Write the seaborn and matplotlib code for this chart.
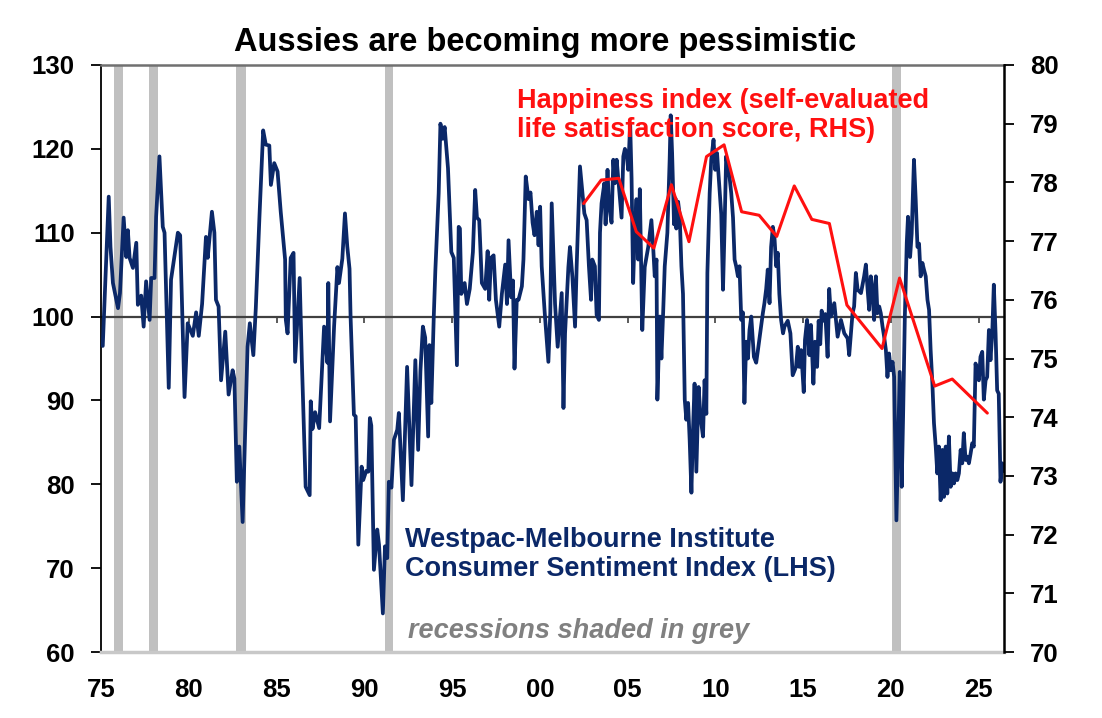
import matplotlib
matplotlib.use("Agg")
import matplotlib.pyplot as plt
import seaborn as sns

# Style
sns.set_style("ticks")
plt.rcParams['font.family'] = ['Liberation Sans', 'DejaVu Sans']
plt.rcParams['font.weight'] = 'bold'
plt.rcParams['text.color'] = 'black'
plt.rcParams['xtick.color'] = 'black'
plt.rcParams['ytick.color'] = 'black'
plt.rcParams['axes.labelcolor'] = 'black'

NAVY = "#0b2868"
RED = "#ff1010"
GREY = "#c0c0c0"

# Westpac-MI consumer sentiment (LHS)
sent_year = [
    1975.10, 1975.44, 1975.54, 1975.68, 1975.97, 1976.08, 1976.29, 1976.44, 1976.53, 1976.63,
    1976.82, 1977.01, 1977.10, 1977.29, 1977.43, 1977.57, 1977.77, 1977.86, 1978.05, 1978.14,
    1978.33, 1978.52, 1978.62, 1978.86, 1978.99, 1979.38, 1979.51, 1979.76, 1979.94, 1980.23,
    1980.42, 1980.57, 1980.76, 1980.98, 1981.08, 1981.32, 1981.46, 1981.55, 1981.70, 1981.84,
    1982.08, 1982.27, 1982.50, 1982.60, 1982.74, 1982.88, 1983.07, 1983.35, 1983.48, 1983.68,
    1983.82, 1984.03, 1984.24, 1984.39, 1984.59, 1984.68, 1984.87, 1985.06, 1985.24, 1985.49,
    1985.53, 1985.63, 1985.81, 1985.97, 1986.06, 1986.32, 1986.44, 1986.66, 1986.89, 1986.95,
    1987.05, 1987.20, 1987.43, 1987.71, 1987.90, 1987.95, 1988.05, 1988.28, 1988.47, 1988.56,
    1988.75, 1988.90, 1989.03, 1989.16, 1989.22, 1989.41, 1989.51, 1989.66, 1989.85, 1989.94,
    1990.11, 1990.23, 1990.32, 1990.40, 1990.55, 1990.74, 1990.84, 1991.06, 1991.18, 1991.31,
    1991.40, 1991.55, 1991.69, 1991.88, 1991.97, 1992.20, 1992.44, 1992.69, 1992.91, 1993.07,
    1993.20, 1993.34, 1993.47, 1993.64, 1993.71, 1993.82, 1993.96, 1994.05, 1994.24, 1994.34,
    1994.47, 1994.58, 1994.77, 1994.96, 1995.10, 1995.28, 1995.38, 1995.45, 1995.53, 1995.72,
    1995.85, 1996.01, 1996.19, 1996.32, 1996.42, 1996.55, 1996.70, 1996.89, 1997.03, 1997.12,
    1997.22, 1997.37, 1997.50, 1997.69, 1997.84, 1998.03, 1998.13, 1998.22, 1998.37, 1998.47,
    1998.56, 1998.69, 1998.79, 1998.98, 1999.07, 1999.20, 1999.36, 1999.47, 1999.59, 1999.70,
    1999.83, 1999.93, 2000.02, 2000.11, 2000.28, 2000.49, 2000.60, 2000.68, 2000.87, 2001.02,
    2001.25, 2001.35, 2001.44, 2001.63, 2001.72, 2001.86, 2002.01, 2002.10, 2002.29, 2002.43,
    2002.54, 2002.67, 2002.80, 2002.92, 2002.99, 2003.14, 2003.24, 2003.37, 2003.43, 2003.52,
    2003.68, 2003.75, 2003.86, 2003.94, 2004.09, 2004.19, 2004.28, 2004.38, 2004.51, 2004.66,
    2004.76, 2004.85, 2004.94, 2005.04, 2005.15, 2005.23, 2005.32, 2005.41, 2005.51, 2005.61,
    2005.70, 2005.84, 2005.98, 2006.18, 2006.36, 2006.46, 2006.55, 2006.65, 2006.70, 2006.84,
    2006.93, 2007.03, 2007.12, 2007.27, 2007.40, 2007.46, 2007.54, 2007.65, 2007.73, 2007.78,
    2007.88, 2007.97, 2008.07, 2008.16, 2008.26, 2008.35, 2008.45, 2008.54, 2008.64, 2008.73,
    2008.82, 2008.92, 2009.05, 2009.16, 2009.30, 2009.39, 2009.49, 2009.55, 2009.68, 2009.77,
    2009.90, 2010.00, 2010.10, 2010.21, 2010.34, 2010.44, 2010.53, 2010.62, 2010.72, 2010.81,
    2010.91, 2011.01, 2011.10, 2011.19, 2011.29, 2011.38, 2011.48, 2011.57, 2011.66, 2011.76,
    2011.86, 2011.95, 2012.05, 2012.20, 2012.33, 2012.43, 2012.61, 2012.71, 2012.80, 2012.90,
    2012.99, 2013.09, 2013.18, 2013.28, 2013.37, 2013.47, 2013.56, 2013.65, 2013.75, 2013.86,
    2013.94, 2014.13, 2014.28, 2014.41, 2014.60, 2014.70, 2014.79, 2014.89, 2015.04, 2015.11,
    2015.23, 2015.36, 2015.45, 2015.59, 2015.68, 2015.80, 2015.89, 2015.98, 2016.06, 2016.18,
    2016.27, 2016.40, 2016.49, 2016.59, 2016.78, 2016.97, 2017.16, 2017.35, 2017.54, 2017.63,
    2017.82, 2017.91, 2018.01, 2018.11, 2018.30, 2018.48, 2018.58, 2018.68, 2018.77, 2018.86,
    2018.96, 2019.05, 2019.15, 2019.24, 2019.34, 2019.43, 2019.53, 2019.62, 2019.72, 2019.81,
    2019.90, 2020.00, 2020.10, 2020.19, 2020.32, 2020.41, 2020.51, 2020.62, 2020.70, 2020.80,
    2020.91, 2020.98, 2021.10, 2021.19, 2021.32, 2021.42, 2021.52, 2021.61, 2021.70, 2021.80,
    2021.89, 2021.99, 2022.09, 2022.18, 2022.27, 2022.37, 2022.46, 2022.56, 2022.65, 2022.74,
    2022.84, 2022.94, 2023.03, 2023.13, 2023.22, 2023.31, 2023.41, 2023.51, 2023.60, 2023.69,
    2023.79, 2023.88, 2023.98, 2024.07, 2024.16, 2024.26, 2024.36, 2024.45, 2024.55, 2024.64,
    2024.73, 2024.83, 2024.93, 2025.02, 2025.11, 2025.21, 2025.30, 2025.40, 2025.49, 2025.59,
    2025.68, 2025.78, 2025.87, 2025.97, 2026.06, 2026.15, 2026.25, 2026.35, 2026.42,
]
sent_value = [
    96.5, 114.3, 108.3, 104.0, 101.0, 102.8, 111.8, 107.1, 110.3, 107.0,
    105.8, 108.8, 101.4, 102.5, 98.8, 104.2, 99.6, 104.6, 104.6, 111.9,
    119.1, 110.7, 110.0, 91.5, 104.4, 110.0, 109.7, 90.4, 99.2, 97.7,
    100.5, 97.7, 101.5, 109.5, 107.0, 112.5, 110.0, 102.0, 101.2, 92.4,
    98.2, 90.7, 93.6, 92.6, 80.3, 84.5, 75.5, 96.4, 99.2, 95.4,
    101.0, 112.0, 122.2, 120.5, 120.4, 115.7, 118.3, 117.3, 112.5, 106.8,
    99.6, 98.0, 107.0, 107.6, 94.6, 104.6, 95.0, 79.7, 78.7, 89.9,
    86.6, 88.6, 86.7, 98.8, 94.5, 104.0, 87.5, 98.8, 105.9, 104.0,
    106.9, 112.3, 108.4, 105.7, 100.0, 88.3, 88.1, 72.8, 82.1, 80.5,
    81.6, 81.5, 87.9, 87.0, 69.8, 74.6, 72.8, 64.6, 72.6, 71.2,
    80.3, 79.6, 85.3, 86.5, 88.5, 78.1, 94.0, 79.9, 94.8, 84.1,
    93.5, 98.8, 97.5, 85.7, 96.6, 89.7, 100.0, 105.5, 114.7, 123.0,
    121.2, 122.6, 117.7, 107.7, 107.0, 94.2, 110.7, 110.5, 102.7, 104.0,
    101.5, 103.3, 107.7, 115.1, 111.8, 111.5, 104.0, 103.3, 107.8, 102.0,
    107.0, 107.3, 102.0, 98.8, 102.7, 106.2, 101.5, 109.1, 102.3, 104.3,
    93.8, 102.0, 102.0, 103.6, 106.8, 116.7, 114.0, 114.8, 111.2, 109.7,
    112.5, 108.5, 113.1, 106.0, 100.5, 94.6, 100.5, 113.5, 101.5, 96.4,
    102.8, 89.1, 98.0, 105.9, 108.3, 104.7, 98.8, 105.9, 117.9, 114.7,
    112.3, 111.5, 106.0, 102.0, 106.8, 106.0, 100.2, 99.6, 110.0, 113.5,
    115.9, 111.0, 117.5, 113.3, 111.2, 118.7, 115.9, 118.7, 115.5, 111.8,
    119.1, 120.0, 119.5, 117.5, 123.0, 116.5, 104.0, 110.0, 114.0, 106.8,
    115.2, 98.4, 105.9, 108.3, 111.5, 108.3, 104.8, 106.8, 90.1, 100.0,
    95.0, 100.5, 106.0, 110.0, 118.7, 124.0, 119.5, 111.0, 114.1, 110.5,
    113.7, 112.2, 106.0, 102.7, 90.1, 87.7, 89.7, 85.3, 79.0, 86.5,
    92.0, 81.5, 91.6, 88.0, 85.7, 92.4, 88.4, 105.2, 114.7, 118.7,
    121.1, 117.5, 119.5, 116.2, 112.2, 103.2, 110.7, 119.1, 117.5, 116.7,
    114.7, 111.8, 106.8, 106.0, 104.8, 106.0, 99.6, 100.5, 89.7, 97.0,
    95.0, 98.4, 100.0, 95.2, 94.5, 96.0, 98.8, 100.4, 101.6, 103.3,
    105.6, 101.6, 108.3, 110.7, 109.5, 106.0, 107.6, 102.7, 99.6, 98.0,
    98.8, 99.5, 98.0, 93.0, 94.0, 96.4, 94.0, 96.0, 91.0, 97.2,
    99.6, 95.4, 99.0, 92.0, 97.0, 94.0, 99.5, 96.7, 100.7, 99.5,
    100.3, 95.2, 103.3, 100.0, 101.6, 97.6, 99.6, 98.0, 97.4, 95.4,
    100.4, 101.2, 105.2, 103.2, 102.8, 104.8, 106.2, 103.2, 100.8, 104.8,
    103.2, 99.6, 104.8, 100.4, 101.2, 100.4, 98.8, 97.6, 96.0, 92.8,
    95.6, 93.6, 94.6, 92.8, 75.7, 84.1, 93.4, 79.7, 88.0, 100.0,
    108.8, 111.9, 107.1, 109.9, 118.7, 113.9, 108.3, 108.7, 104.8, 106.4,
    105.6, 104.8, 102.0, 100.8, 96.0, 92.0, 87.3, 84.5, 81.3, 84.5,
    78.1, 84.1, 78.5, 84.5, 78.9, 85.7, 79.7, 81.3, 80.1, 81.3,
    80.5, 81.3, 84.1, 82.5, 86.1, 82.9, 83.3, 82.5, 83.7, 84.9,
    84.5, 94.4, 92.8, 92.4, 95.2, 95.8, 90.1, 92.4, 92.8, 98.4,
    94.8, 98.0, 103.8, 98.0, 91.2, 90.8, 80.3, 82.5, 81.6,
]

# Happiness index (RHS)
happy_year = [2002.5, 2003.5, 2004.5, 2005.5, 2006.5, 2007.5, 2008.5, 2009.5, 2010.5, 2011.5,
              2012.5, 2013.5, 2014.5, 2015.5, 2016.5, 2017.5, 2019.5, 2020.5, 2022.5, 2023.5,
              2025.5]
happy_value = [77.64, 78.04, 78.07, 77.16, 76.88, 77.96, 76.99, 78.44, 78.64, 77.50,
               77.44, 77.08, 77.94, 77.37, 77.30, 75.91, 75.17, 76.37, 74.53, 74.65,
               74.07]

# Recessions (grey bars)
rec_start = [1975.74, 1977.73, 1982.67, 1991.19, 2020.06]
rec_end = [1976.25, 1978.24, 1983.24, 1991.65, 2020.57]

# x-axis labels
tick_years = [1975, 1980, 1985, 1990, 1995, 2000, 2005, 2010, 2015, 2020, 2025]
tick_labels = ['75', '80', '85', '90', '95', '00', '05', '10', '15', '20', '25']

fig = plt.figure(figsize=(11.02, 7.18), dpi=100)
ax = fig.add_axes([101 / 1102, 66 / 718, 903 / 1102, 587 / 718])

for s, e in zip(rec_start, rec_end):
    ax.axvspan(s, e, color=GREY, lw=0, zorder=0)

sns.lineplot(x=sent_year, y=sent_value, ax=ax, color=NAVY, linewidth=2.7,
             sort=False, estimator=None, zorder=3)

ax.set_xlim(1975.0, 2026.45)
ax.set_ylim(60, 130)
ax.set_yticks(range(60, 131, 10))
ax.set_xticks(tick_years)
ax.set_xticklabels(tick_labels)
ax.set_xlabel('')
ax.set_ylabel('')
ax.tick_params(axis='x', length=0, pad=19, labelsize=18.5)
ax.tick_params(axis='y', length=7, width=1.3, pad=12, labelsize=18.5, color='black')
for lab in ax.get_xticklabels() + ax.get_yticklabels():
    lab.set_fontweight('bold')

ax.spines['left'].set_color('black')
ax.spines['left'].set_linewidth(1.3)
ax.spines['top'].set_color('#707070')
ax.spines['top'].set_linewidth(1.8)
ax.spines['bottom'].set_color('#c8c8c8')
ax.spines['bottom'].set_linewidth(2.5)
ax.spines['right'].set_visible(False)

# line at 100 with small year ticks
sec = ax.secondary_xaxis((100 - 60) / 70)
sec.set_xticks(tick_years[1:])
sec.xaxis.set_ticks_position('bottom')
sec.tick_params(axis='x', direction='out', length=4, width=1.2, color='#404040',
                labelbottom=False, labeltop=False)
for sp in sec.spines.values():
    sp.set_color('#404040')
    sp.set_linewidth(1.6)
sec.set_zorder(2)

ax2 = ax.twinx()
sns.lineplot(x=happy_year, y=happy_value, ax=ax2, color=RED, linewidth=2.2,
             sort=False, estimator=None)
ax2.set_ylim(70, 80)
ax2.set_yticks(range(70, 81))
ax2.set_ylabel('')
ax2.tick_params(axis='y', length=7.5, width=1.3, pad=11, labelsize=18.5, color='black')
for lab in ax2.get_yticklabels():
    lab.set_fontweight('bold')
for side in ['left', 'top', 'bottom']:
    ax2.spines[side].set_visible(False)
ax2.spines['right'].set_color('black')
ax2.spines['right'].set_linewidth(1.8)

fig.text(0.4946, 0.9415, 'Aussies are becoming more pessimistic', ha='center', va='center',
         fontsize=23.5, fontweight='bold', color='black')
fig.text(0.469, 0.877, 'Happiness index (self-evaluated\nlife satisfaction score, RHS)',
         ha='left', va='top', fontsize=19.5, fontweight='bold', color=RED, linespacing=1.15)
fig.text(0.3675, 0.266, 'Westpac-Melbourne Institute\nConsumer Sentiment Index (LHS)',
         ha='left', va='top', fontsize=19.5, fontweight='bold', color=NAVY, linespacing=1.15)
fig.text(0.370, 0.1212, 'recessions shaded in grey', ha='left', va='center',
         fontsize=19.5, fontweight='bold', fontstyle='italic', color='#808080')

fig.savefig('out.png', dpi=100)
